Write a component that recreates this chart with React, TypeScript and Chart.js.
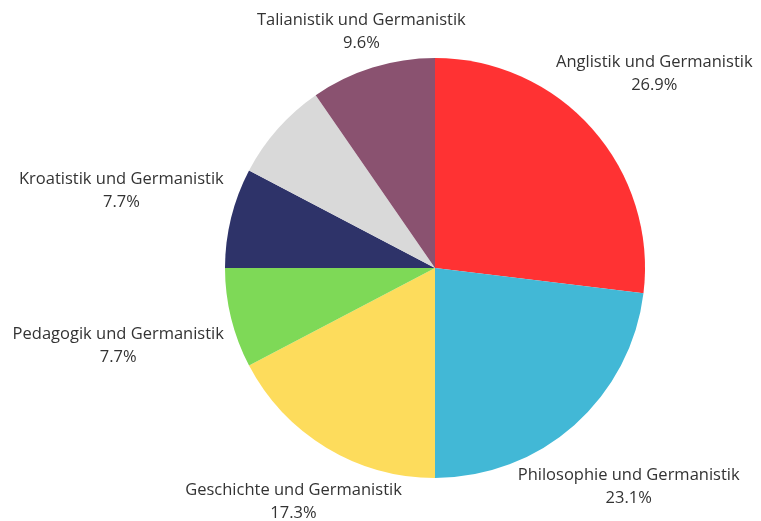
import { useEffect, useRef } from "react";
import Chart from "chart.js/auto";

const categories = [
  "Anglistik und Germanistik",
  "Philosophie und Germanistik",
  "Geschichte und Germanistik",
  "Pedagogik und Germanistik",
  "Kroatistik und Germanistik",
  "",
  "Talianistik und Germanistik",
];
const counts = [14, 12, 9, 4, 4, 4, 5];
const sliceColors = ["#FF3233", "#42B8D6", "#FDDC5C", "#7ED957", "#2E3369", "#D9D9D9", "#8A5270"];

const FONT = "16.5px 'Open Sans', sans-serif";
const LINE_H = 23;

const outerLabels = {
  id: "outerLabels",
  afterDraw(chart: any) {
    const ctx = chart.ctx as CanvasRenderingContext2D;
    const meta = chart.getDatasetMeta(0);
    const data = chart.data.datasets[0].data as number[];
    const total = data.reduce((a, b) => a + b, 0);
    ctx.save();
    ctx.font = FONT;
    ctx.fillStyle = "#333333";
    ctx.textAlign = "center";
    ctx.textBaseline = "middle";
    meta.data.forEach((arc: any, i: number) => {
      const name = chart.data.labels[i] as string;
      if (!name) return;
      const pct = ((data[i] / total) * 100).toFixed(1) + "%";
      const p = arc.getProps(["x", "y", "startAngle", "endAngle", "outerRadius"], true);
      const mid = (p.startAngle + p.endAngle) / 2;
      const dx = Math.cos(mid);
      const dy = Math.sin(mid);
      const hw = Math.max(ctx.measureText(name).width, ctx.measureText(pct).width) / 2;
      const r = p.outerRadius + 16 + Math.abs(dx) * hw - 10 * Math.abs(dy);
      const cx = p.x + dx * r;
      const cy = p.y + dy * r;
      ctx.fillText(name, cx, cy - LINE_H / 2);
      ctx.fillText(pct, cx, cy + LINE_H / 2);
    });
    ctx.restore();
  },
};

export default function App() {
  const ref = useRef<HTMLCanvasElement>(null);
  useEffect(() => {
    document.body.style.margin = "0";
    const chart = new Chart(ref.current!, {
      type: "pie",
      data: {
        labels: categories,
        datasets: [
          {
            data: counts,
            backgroundColor: sliceColors,
            borderWidth: 0,
          },
        ],
      },
      options: {
        responsive: false,
        animation: false,
        layout: { padding: { top: 58, bottom: 43, left: 225, right: 116 } },
        plugins: {
          legend: { display: false },
          tooltip: { enabled: false },
        },
      },
      plugins: [outerLabels],
    });
    (document as any).fonts?.load(FONT).then(() => chart.draw());
    return () => chart.destroy();
  }, []);
  return (
    <div style={{ position: "fixed", left: 0, top: 0, width: 761, height: 521, background: "#fff" }}>
      <canvas ref={ref} width={761} height={521} />
    </div>
  );
}
